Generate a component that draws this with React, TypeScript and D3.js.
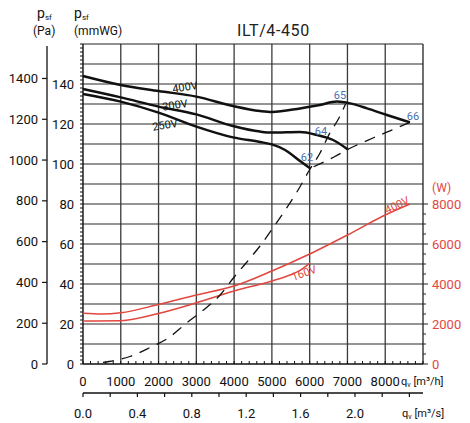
import React from 'react';
import * as d3 from 'd3';

const W = 470;
const H = 423;

// axis ticks
const qTicks = [0, 1000, 2000, 3000, 4000, 5000, 6000, 7000, 8000];
const qsTicks = [0, 0.4, 0.8, 1.2, 1.6, 2.0];
const paTicks = [0, 200, 400, 600, 800, 1000, 1200, 1400];
const mmTicks = [0, 20, 40, 60, 80, 100, 120, 140];
const wTicks = [0, 2000, 4000, 6000, 8000];

// pressure curves (q in m3/h, p in mmWG)
const q400 = [0, 1000, 2000, 3000, 3970, 4685, 5000, 5745, 6270, 6720, 7070, 7520, 8045, 8655];
const p400 = [144, 139.5, 136.5, 133.7, 129, 126.5, 126, 127.8, 129.5, 131.2, 130.3, 127.8, 124.5, 120.8];
const q300 = [0, 1000, 2000, 3000, 3970, 4685, 5000, 5745, 6180, 6620, 7010];
const p300 = [137.5, 133.3, 128.7, 124.8, 119, 116.2, 115.7, 116, 114.6, 112, 107.3];
const q250 = [0, 1000, 2000, 3000, 3970, 4685, 5000, 5350, 5745, 6010];
const p250 = [135, 131.2, 125.7, 118.7, 113.3, 111, 109.8, 107, 101.5, 97.8];

// dashed lines (mmWG)
const qSys = [530, 688, 1244, 1773, 2276, 2726, 3190, 3653, 3970, 4328, 4685, 5029, 5373, 5678, 6010, 6260, 6525, 6790, 6950];
const pSys = [0.8, 1.25, 3.75, 8.25, 13.25, 20.25, 27, 35, 42.75, 50.75, 59, 68, 77.5, 86.5, 97.5, 105, 115.2, 123.5, 130];
const qMin = [6010, 6644, 7010, 7676, 8205, 8655];
const pMin = [97.8, 103.5, 107.3, 113, 117.2, 120.8];

// power curves (W)
const qW400 = [0, 500, 1000, 2000, 3000, 4000, 5000, 6000, 7000, 8000, 8655];
const w400 = [2540, 2500, 2560, 2980, 3450, 3900, 4650, 5500, 6450, 7450, 8000];
const qW160 = [0, 1000, 2000, 3000, 4000, 5000, 5480, 5745, 6010];
const w160 = [2150, 2165, 2530, 3060, 3650, 4150, 4450, 4680, 5060];

const RED = '#e2473f';
const BLUE = '#4a6fae';
const FONT = 'Roboto, "DejaVu Sans", sans-serif';

export default function App() {
  const x = d3.scaleLinear().domain([0, 9000]).range([83, 423]);
  const y = d3.scaleLinear().domain([0, 160]).range([364, 44]);
  const yPa = d3.scaleLinear().domain([0, 160 * 9.80665]).range([364, 44]);
  const yW = d3.scaleLinear().domain([0, 16000]).range([364, 44]);
  const xs = d3.scaleLinear().domain([0, 2.5]).range([83, 423]);

  const lineP = (qs: number[], ps: number[]) =>
    d3.line<number>().x((_, i) => x(qs[i])).y((d) => y(d)).curve(d3.curveMonotoneX)(ps) || '';
  const lineW = (qs: number[], ws: number[]) =>
    d3.line<number>().x((_, i) => x(qs[i])).y((d) => yW(d)).curve(d3.curveMonotoneX)(ws) || '';

  const [x0, x1] = x.range();
  const yTop = y(160);
  const yBot = y(0);

  return (
    <svg width={W} height={H} style={{ position: 'absolute', left: 0, top: 0, background: '#fff' }} fontFamily={FONT}>
      <rect x={0} y={0} width={W} height={H} fill="#fff" />
      {/* grid */}
      {d3.range(10, 160, 10).map((v) => (
        <line key={'h' + v} x1={x0} x2={x1} y1={y(v)} y2={y(v)} stroke="#2a2a2a" strokeWidth={1.2} />
      ))}
      {d3.range(1000, 9000, 1000).map((v) => (
        <line key={'v' + v} x1={x(v)} x2={x(v)} y1={yTop} y2={yBot} stroke="#3a3a3a" strokeWidth={1.3} />
      ))}
      <line x1={x0} x2={x1} y1={yTop} y2={yTop} stroke="#222" strokeWidth={1.2} />
      <line x1={x1} x2={x1} y1={yTop} y2={yBot} stroke="#222" strokeWidth={1.3} />

      {/* Pa axis */}
      <line x1={47} x2={47} y1={46} y2={yBot} stroke="#111" strokeWidth={1.3} />
      {paTicks.map((v) => (
        <g key={'pa' + v}>
          <line x1={42} x2={47} y1={yPa(v)} y2={yPa(v)} stroke="#111" strokeWidth={1.2} />
          <text x={38} y={yPa(v)} dy="0.35em" textAnchor="end" fontSize={13} fill="#111">{v}</text>
        </g>
      ))}

      {/* mmWG axis */}
      <line x1={x0} x2={x0} y1={yTop} y2={yBot} stroke="#111" strokeWidth={1.4} />
      {d3.range(0, 161, 2).map((v) => (
        <line key={'mt' + v} x1={x0 - 3} x2={x0} y1={y(v)} y2={y(v)} stroke="#111" strokeWidth={1} />
      ))}
      {mmTicks.map((v) => (
        <text key={'mm' + v} x={74} y={y(v)} dy="0.35em" textAnchor="end" fontSize={13} fill="#111">{v}</text>
      ))}

      {/* right W axis */}
      {d3.range(0, 8001, 500).map((v) => (
        <line key={'wt' + v} x1={x1} x2={x1 + (v % 2000 === 0 ? 5 : 3)} y1={yW(v)} y2={yW(v)} stroke="#222" strokeWidth={1} />
      ))}
      {wTicks.map((v) => (
        <text key={'w' + v} x={432} y={yW(v)} dy="0.35em" fontSize={13} fill={RED}>{v}</text>
      ))}
      <text x={432} y={188} dy="0.35em" fontSize={12} fill={RED}>(W)</text>

      {/* bottom axis m3/h */}
      <line x1={x0} x2={x1} y1={yBot} y2={yBot} stroke="#111" strokeWidth={1.4} />
      {d3.range(0, 9001, 200).map((v) => (
        <line key={'bt' + v} x1={x(v)} x2={x(v)} y1={yBot} y2={yBot - 3} stroke="#111" strokeWidth={1} />
      ))}
      {qTicks.map((v) => (
        <text key={'q' + v} x={x(v)} y={381} dy="0.35em" textAnchor="middle" fontSize={13} fill="#111">{v}</text>
      ))}
      <text x={401} y={381} dy="0.35em" fontSize={11} fill="#111">
        q<tspan fontSize={7} dy={2}>v</tspan><tspan dy={-2}> [m³/h]</tspan>
      </text>

      {/* m3/s axis */}
      <line x1={x0} x2={x1} y1={393} y2={393} stroke="#111" strokeWidth={1.3} />
      {d3.range(0, 2.41, 0.2).map((v) => (
        <line key={'st' + v} x1={xs(v)} x2={xs(v)} y1={393} y2={397} stroke="#111" strokeWidth={1.2} />
      ))}
      {qsTicks.map((v) => (
        <text key={'qs' + v} x={xs(v)} y={413} dy="0.35em" textAnchor="middle" fontSize={13} fill="#111">{v.toFixed(1)}</text>
      ))}
      <text x={402} y={413} dy="0.35em" fontSize={11} fill="#111">
        q<tspan fontSize={7} dy={2}>v</tspan><tspan dy={-2}> [m³/s]</tspan>
      </text>

      {/* power curves */}
      <path d={lineW(qW400, w400)} fill="none" stroke={RED} strokeWidth={1.5} />
      <path d={lineW(qW160, w160)} fill="none" stroke={RED} strokeWidth={1.5} />

      {/* dashed lines */}
      <path d={lineP(qSys, pSys)} fill="none" stroke="#111" strokeWidth={1.3} strokeDasharray="11 8" />
      <path d={lineP(qMin, pMin)} fill="none" stroke="#111" strokeWidth={1.3} strokeDasharray="11 8" strokeDashoffset={-4} />

      {/* pressure curves */}
      <path d={lineP(q400, p400)} fill="none" stroke="#111" strokeWidth={2.5} />
      <path d={lineP(q300, p300)} fill="none" stroke="#111" strokeWidth={2.5} />
      <path d={lineP(q250, p250)} fill="none" stroke="#111" strokeWidth={2.5} />

      {/* curve labels */}
      <text x={185} y={87} dy="0.35em" textAnchor="middle" fontSize={11} fill="#111" transform="rotate(-9 185 87)">400V</text>
      <text x={175} y={105} dy="0.35em" textAnchor="middle" fontSize={11} fill="#111" transform="rotate(-9 175 105)">300V</text>
      <text x={165} y={125} dy="0.35em" textAnchor="middle" fontSize={11} fill="#111" transform="rotate(-9 165 125)">250V</text>

      <text x={340} y={95.5} dy="0.35em" textAnchor="middle" fontSize={11} fill={BLUE}>65</text>
      <text x={413} y={116} dy="0.35em" textAnchor="middle" fontSize={11} fill={BLUE}>66</text>
      <text x={321} y={131} dy="0.35em" textAnchor="middle" fontSize={11} fill={BLUE}>64</text>
      <text x={307} y={157.5} dy="0.35em" textAnchor="middle" fontSize={11} fill={BLUE}>62</text>

      <text x={397} y={205} dy="0.35em" textAnchor="middle" fontSize={11} fill={RED} transform="rotate(-25 397 205)">400V</text>
      <text x={304} y={273} dy="0.35em" textAnchor="middle" fontSize={11} fill={RED} transform="rotate(-20 304 273)">160V</text>

      {/* headers */}
      <text x={37} y={18} fontSize={14} fill="#111">p<tspan fontSize={8} dy={1.5}>sf</tspan></text>
      <text x={33} y={35} fontSize={12} fill="#111">(Pa)</text>
      <text x={74} y={18} fontSize={14} fill="#111">p<tspan fontSize={8} dy={1.5}>sf</tspan></text>
      <text x={74} y={35} fontSize={12} fill="#111">(mmWG)</text>

      <text x={237} y={36} fontSize={16} letterSpacing={0.6} fill="#222">ILT/4-450</text>
    </svg>
  );
}
